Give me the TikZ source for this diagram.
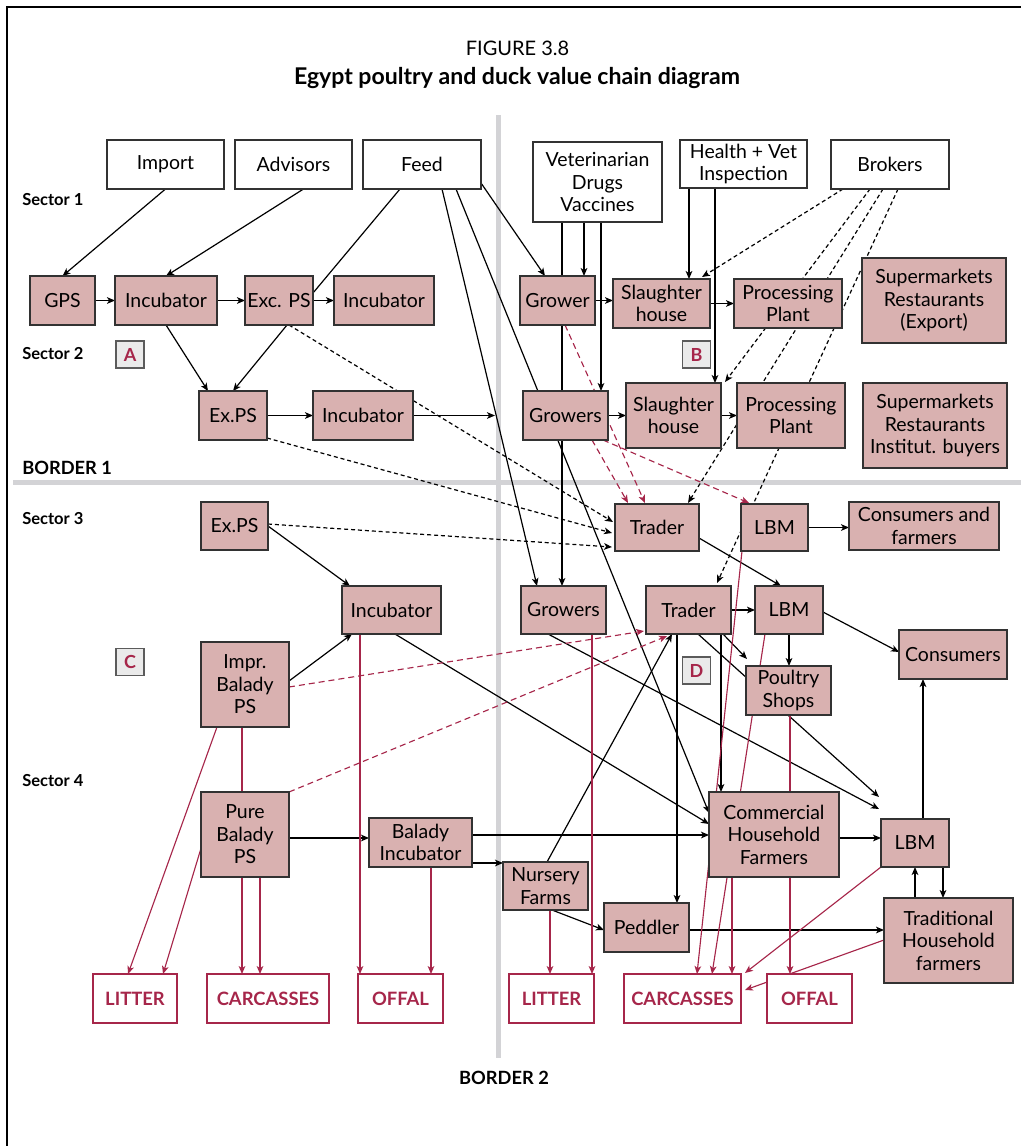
\documentclass[tikz,border=0pt]{standalone}
\usepackage{fontspec}
\setmainfont{Lato}
\usetikzlibrary{arrows.meta,calc}
\definecolor{pinkc}{RGB}{217,177,176}
\definecolor{bordc}{RGB}{50,50,50}
\definecolor{crim}{RGB}{166,38,74}
\definecolor{grayline}{RGB}{211,211,214}
\definecolor{ltbox}{RGB}{234,234,234}
\newcommand\myNF{\fontsize{14.6}{16.9}\selectfont}
\newcommand\myOF{\bfseries\fontsize{13.8}{16}\selectfont}
\newcommand\myLF{\bfseries\fontsize{13.5}{16}\selectfont}
\newcommand\mySF{\bfseries\fontsize{12.4}{14}\selectfont}
\newcommand\myBF{\bfseries\fontsize{13.7}{16}\selectfont}
\pgfdeclarelayer{back}
\pgfdeclarelayer{bg}
\pgfsetlayers{back,bg,main}
\tikzset{
  base/.style={draw=bordc, line width=1pt, inner sep=0pt, outer sep=0pt, align=center, font=\myNF},
  pk/.style={base, fill=pinkc},
  wt/.style={base, fill=white},
  outbox/.style={draw=crim, line width=1pt, fill=white, text=crim, font=\myOF, inner sep=0pt, outer sep=0pt},
  letbox/.style={draw=bordc!80, line width=1pt, fill=ltbox, text=crim, font=\myLF, inner sep=0pt, outer sep=0pt},
  sz/.style 2 args={minimum width=#1*0.75pt, minimum height=#2*0.75pt},
  lab/.style={font=\mySF, anchor=west, inner sep=0pt},
  ar/.style={-{Stealth[length=6pt,width=5pt,inset=1.6pt]}, line width=0.9pt, draw=black},
  pl/.style={line width=0.9pt, draw=black},
  dl/.style={ar, dash pattern=on 3pt off 2.2pt},
  cra/.style={-{Stealth[length=6pt,width=5pt,inset=1.6pt]}, line width=0.85pt, draw=crim},
  crl/.style={line width=0.85pt, draw=crim},
  crd/.style={cra, dash pattern=on 4.5pt off 3pt}
}
\begin{document}
\begin{tikzpicture}[x=0.75pt,y=-0.75pt]
\useasboundingbox (0,0) rectangle (1021,1146);
% frame
\draw[line width=1.5pt] (7,1146) -- (7,7) -- (1021,7);
% title
\node[font=\fontsize{15}{18}\selectfont] (fig) at (517.5,48) {FIGURE 3.8};
\node[font=\bfseries\fontsize{17.3}{20}\selectfont] (ttl) at (517,78) {Egypt poultry and duck value chain diagram};
% labels
\node[lab] (s1) at (22,200) {Sector 1};
\node[lab] (s2) at (22,354) {Sector 2};
\node[lab, font=\myBF] (b1) at (22,468) {BORDER 1};
\node[lab] (s3) at (22,519) {Sector 3};
\node[lab] (s4) at (22,781) {Sector 4};
\node[font=\myBF, inner sep=0pt] (b2) at (504,1078) {BORDER 2};
% letter boxes
\node[letbox, sz={28}{27}] (la) at (130,354.5) {A};
\node[letbox, sz={28}{27}] (lb) at (696.5,354.5) {B};
\node[letbox, sz={28}{27}] (lc) at (130,662) {C};
\node[letbox, sz={28}{27}] (ld) at (696.5,670.5) {D};
% white top boxes
\node[wt, sz={117}{49}] (imp) at (165.5,164.5) {Import};
\node[wt, sz={117}{49}] (adv) at (293.5,164.5) {Advisors};
\node[wt, sz={118}{49}] (feed) at (422,164.5) {Feed};
\node[wt, sz={129}{80}] (vet) at (597.5,182) {Veterinarian\\Drugs\\Vaccines};
\node[wt, sz={127}{48}] (hv) at (743.5,164) {Health + Vet\\Inspection};
\node[wt, sz={118}{49}] (brk) at (890,164.5) {Brokers};
% sector 1
\node[pk, sz={65}{49}] (gps) at (62.5,300.5) {GPS};
\node[pk, sz={102}{49}] (inc1) at (166,300.5) {Incubator};
\node[pk, sz={68}{49}] (exc) at (279,300.5) {Exc. PS};
\node[pk, sz={100}{49}] (inc1b) at (384,300.5) {Incubator};
\node[pk, sz={75}{49}] (grw) at (557.5,300.5) {Grower};
\node[pk, sz={97}{49}] (sl1) at (661.5,303.5) {Slaughter\\house};
\node[pk, sz={108}{49}] (pp1) at (788,303.5) {Processing\\Plant};
\node[pk, sz={144}{85}] (sm1) at (934,300.5) {Supermarkets\\Restaurants\\(Export)};
% sector 2
\node[pk, sz={68}{49}] (ex2) at (233,415.5) {Ex.PS};
\node[pk, sz={100}{49}] (inc2) at (363,415.5) {Incubator};
\node[pk, sz={85}{49}] (grs2) at (565.5,415.5) {Growers};
\node[pk, sz={95}{65}] (sl2) at (673.5,415.5) {Slaughter\\house};
\node[pk, sz={108}{65}] (pp2) at (791,415.5) {Processing\\Plant};
\node[pk, sz={144}{85}] (sm2) at (935,425.5) {Supermarkets\\Restaurants\\Institut. buyers};
\coordinate (bd) at (495,415.5);
% sector 3
\node[pk, sz={67}{48}] (ex3) at (234.5,526) {Ex.PS};
\node[pk, sz={84}{47}] (tr3) at (657,527.5) {Trader};
\node[pk, sz={67}{47}] (lbm3) at (774.5,527.5) {LBM};
\node[pk, sz={150}{48}] (cf) at (924,526) {Consumers and\\farmers};
% row 4
\node[pk, sz={99}{48}] (inc4) at (391.5,610) {Incubator};
\node[pk, sz={85}{48}] (grs4) at (563.5,610) {Growers};
\node[pk, sz={85}{48}] (tr4) at (688.5,610) {Trader};
\node[pk, sz={68}{48}] (lbm4) at (789,610) {LBM};
\node[pk, sz={108}{49}] (cons) at (953,654.5) {Consumers};
\node[pk, sz={88}{85}] (impr) at (245,684.5) {Impr.\\Balady\\PS};
\node[pk, sz={85}{49}] (ps) at (788.5,690.5) {Poultry\\Shops};
% sector 4
\node[pk, sz={88}{85}] (pure) at (245,834.5) {Pure\\Balady\\PS};
\node[pk, sz={103}{49}] (binc) at (420.5,842.5) {Balady\\Incubator};
\node[pk, sz={130}{85}] (chf) at (774,834.5) {Commercial\\Household\\Farmers};
\node[pk, sz={68}{48}] (lbm5) at (915,843) {LBM};
\node[pk, sz={85}{48}] (nf) at (545.5,886) {Nursery\\Farms};
\node[pk, sz={85}{49}] (ped) at (646.5,927.5) {Peddler};
\node[pk, sz={129}{85}] (thf) at (948.5,940.5) {Traditional\\Household\\farmers};
% outputs
\node[outbox, sz={84}{49}] (lit1) at (135,998.5) {LITTER};
\node[outbox, sz={122}{49}] (car1) at (268,998.5) {CARCASSES};
\node[outbox, sz={85}{49}] (off1) at (400.5,998.5) {OFFAL};
\node[outbox, sz={85}{49}] (lit2) at (551.5,998.5) {LITTER};
\node[outbox, sz={117}{49}] (car2) at (682.5,998.5) {CARCASSES};
\node[outbox, sz={85}{49}] (off2) at (809.5,998.5) {OFFAL};

\begin{pgfonlayer}{back}
\draw[grayline, line width=3.75pt] (498.5,115) -- (498.5,1058);
\draw[grayline, line width=3.75pt] (13,482) -- (1021,482);
\end{pgfonlayer}

\begin{pgfonlayer}{bg}
% top inputs
\draw[ar] (imp.south) -- (gps.north);
\draw[ar] ($(adv.south)+(10,0)$) -- (inc1.north);
\draw[pl] ($(feed.south west)+(37,0)$) -- ($(exc.north east)+(0,17)$);
\draw[ar] ($(feed.south west)+(79,0)$) -- ($(grs4.north west)+(16,0)$);
\draw[ar] ($(feed.south west)+(93,0)$) -- ($(chf.north west)+(0,21)$);
\draw[ar] ($(feed.north east)+(0,43)$) -- ($(grw.north west)+(25,0)$);
\draw[ar] ($(vet.south west)+(29,0)$) -- ($(grs4.north west)+(41,0)$);
\draw[ar] ($(vet.south west)+(51,0)$) -- ($(grw.north west)+(64,0)$);
\draw[ar] ($(vet.south west)+(68,0)$) -- ($(grs2.north west)+(78,0)$);
\draw[ar] ($(hv.south west)+(9,0)$) -- ($(sl1.north west)+(76,0)$);
\draw[ar] ($(hv.south west)+(35,0)$) -- ($(sl2.north west)+(89,0)$);
% brokers
\draw[dl] ($(brk.south west)+(12,0)$) -- ($(sl1.north east)+(-8,-2)$);
\draw[dl] ($(brk.south west)+(39,0)$) -- ($(sl2.north east)+(4,-1)$);
\draw[dl] ($(brk.south west)+(52,0)$) -- ($(tr3.north west)+(73,-1)$);
\draw[dl] ($(brk.south west)+(67,0)$) -- ($(tr4.north west)+(71,-3)$);
% sector 1 chain
\draw[ar] (gps.east) -- (inc1.west);
\draw[ar] (inc1.east) -- (exc.west);
\draw[ar] (exc.east) -- (inc1b.west);
\draw[ar] (grw.east) -- (grw.east -| sl1.west);
\draw[ar] (sl1.east) -- (pp1.west);
\draw[ar] (inc1.south) -- ($(ex2.north west)+(9,0)$);
\draw[ar] ($(exc.south west)+(42,0)$) -- (ex2.north);
\draw[dl] ($(exc.south west)+(44,0)$) -- ($(tr3.north west)+(-2,18)$);
% sector 2 chain
\draw[ar] (ex2.east) -- (inc2.west);
\draw[ar] (inc2.east) -- (bd);
\draw[dl] ($(ex2.south east)+(0,-2)$) -- ($(tr3.north west)+(-3,29)$);
\draw[ar] (grs2.east) -- (sl2.west);
\draw[ar] (sl2.east) -- (pp2.west);
\draw[crd] ($(grw.south west)+(45,0)$) -- ($(tr3.north west)+(30,-1)$);
\draw[crd] ($(grs2.south west)+(69,0)$) -- ($(tr3.north west)+(13,-1)$);
\draw[crd] ($(grs2.south east)+(-5,0)$) -- ($(lbm3.north west)+(8,-1)$);
% sector 3
\draw[dl] ($(ex3.east)+(0,-2)$) -- ($(tr3.north west)+(-3,43)$);
\draw[ar] (ex3.east) -- ($(inc4.north west)+(8,0)$);
\draw[ar] ($(tr3.north east)+(0,34)$) -- ($(lbm4.north west)+(26,0)$);
\draw[ar] (lbm3.east) -- (lbm3.east -| cf.west);
% row 4
\draw[ar] (tr4.east) -- (lbm4.west);
\draw[ar] ($(lbm4.north east)+(0,26)$) -- ($(cons.north west)+(0,22)$);
\draw[ar] (lbm4.south) -- (lbm4.south |- ps.north);
\draw[ar] ($(tr4.south west)+(77,0)$) -- ($(ps.north west)+(1,-7)$);
\draw[ar] ($(tr4.south west)+(52,0)$) -- ($(lbm5.north west)+(-2,-22)$);
\draw[ar] ($(tr4.south west)+(31,0)$) -- ($(ped.north west)+(73,0)$);
\draw[ar] ($(tr4.south west)+(75,0)$) -- ($(chf.north west)+(12,0)$);
\draw[ar] ($(nf.north west)+(44,0)$) -- ($(tr4.south west)+(26,0)$);
\draw[ar] ($(grs4.south west)+(27,0)$) -- ($(lbm5.north west)+(-2,-10)$);
\draw[ar] ($(inc4.south west)+(53,0)$) -- ($(chf.north west)+(0,32)$);
\draw[ar] ($(impr.north east)+(0,39)$) -- ($(inc4.south west)+(10,0)$);
\draw[crd] ($(impr.north east)+(0,45)$) -- ($(tr4.north west)+(-2,45)$);
\draw[crd] (pure.north east) -- ($(tr4.south west)+(21,2)$);
% sector 4
\draw[ar] ($(pure.north east)+(0,46)$) -- ($(binc.north west)+(0,20)$);
\draw[ar] ($(binc.north east)+(0,17)$) -- ($(chf.north west)+(0,43)$);
\draw[ar] ($(binc.north east)+(0,45)$) -- ($(nf.north west)+(0,1)$);
\draw[ar] ($(chf.north east)+(0,46)$) -- ($(lbm5.north west)+(0,19)$);
\draw[ar] ($(lbm5.north west)+(42,0)$) -- ($(cons.south west)+(24,0)$);
\draw[ar] ($(thf.north west)+(31,0)$) -- ($(lbm5.south west)+(34,0)$);
\draw[ar] ($(lbm5.south west)+(62,0)$) -- ($(thf.north west)+(59,0)$);
\draw[ar] ($(ped.north east)+(0,27)$) -- ($(thf.north west)+(0,32)$);
\draw[ar] ($(nf.south west)+(49,0)$) -- ($(ped.north west)+(0,27)$);
% waste flows
\draw[cra] ($(impr.south west)+(16,0)$) -- ($(lit1.north west)+(35,0)$);
\draw[cra] ($(pure.north west)+(1,53)$) -- ($(lit1.north west)+(70,0)$);
\draw[cra] ($(impr.south west)+(41,0)$) -- ($(car1.north west)+(35,0)$);
\draw[cra] ($(pure.south west)+(59,0)$) -- ($(car1.north west)+(53,0)$);
\draw[cra] ($(inc4.south west)+(18,0)$) -- ($(off1.north west)+(2,0)$);
\draw[cra] ($(binc.south west)+(62,0)$) -- ($(off1.north west)+(73,0)$);
\draw[cra] ($(grs4.south west)+(71,0)$) -- ($(lit2.north west)+(83,0)$);
\draw[cra] ($(nf.south west)+(47,0)$) -- ($(lit2.north west)+(41,0)$);
\draw[cra] ($(lbm3.south west)+(1,0)$) -- ($(car2.north west)+(73,0)$);
\draw[cra] ($(lbm4.south west)+(10,0)$) -- ($(car2.north west)+(88,0)$);
\draw[cra] ($(chf.south west)+(23,0)$) -- ($(car2.north west)+(108,0)$);
\draw[cra] (lbm5.south west) -- ($(car2.north east)+(4,-1)$);
\draw[cra] ($(thf.north west)+(0,42)$) -- ($(car2.north east)+(4,16)$);
\draw[cra] ($(ps.south west)+(44,0)$) -- ($(off2.north west)+(23,0)$);
\end{pgfonlayer}
\end{tikzpicture}
\end{document}
